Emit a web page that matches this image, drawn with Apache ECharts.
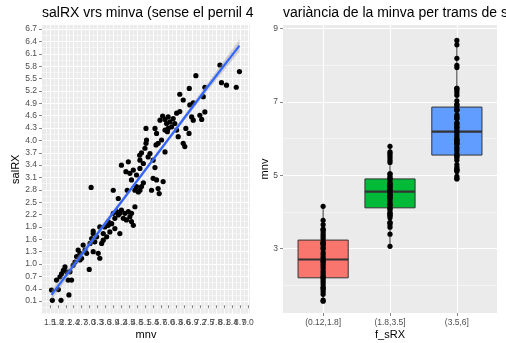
<!DOCTYPE html>
<html>
<head>
<meta charset="utf-8">
<script src="https://cdn.jsdelivr.net/npm/echarts@6/dist/echarts.min.js"></script>
<style>
  html, body { margin: 0; padding: 0; background: #ffffff; }
  #c { width: 506px; height: 343px; }
</style>
</head>
<body>
<div id="c"></div>
<script>
// Observations: weight loss (mnv) and salt uptake (salRX)
const mnv = [
  1.59, 1.92, 2.22, 1.56, 1.82, 1.75, 1.88, 1.94, 2.01, 2.07, 2.19, 2.32, 2.13, 2.26, 2.38, 2.45, 2.51, 2.57, 2.64, 2.70,
  2.76, 2.83, 2.89, 2.99, 3.02, 3.08, 3.14, 3.14, 3.20, 3.27, 3.33, 3.39, 3.46, 3.52, 3.52, 3.58, 3.65, 3.71, 3.77, 3.84,
  3.90, 3.96, 4.03, 4.09, 4.15, 4.21, 4.28, 4.34, 4.40, 4.47, 4.53, 4.59, 4.66,
  2.64, 3.39, 3.96, 4.15, 4.59, 3.71, 3.14, 3.65,
  3.06, 3.90, 4.09, 4.43, 4.72, 4.85, 4.91, 4.21, 4.47, 4.38, 4.53, 4.66, 4.59, 4.78, 4.91, 4.78, 4.97, 5.04, 4.72, 4.90,
  4.97, 4.91, 5.10, 5.14, 5.16, 5.22, 5.29, 5.41, 5.48, 5.41, 5.35, 5.54, 5.60, 5.64, 5.79, 5.86, 5.60, 5.52, 5.14, 5.48,
  5.54, 5.67, 5.77, 5.86, 5.92, 5.98, 6.05, 6.11, 6.17, 6.23, 6.30, 5.98, 5.95, 6.30, 6.36, 6.42, 6.55, 6.61, 6.65, 6.77,
  6.87, 6.93, 7.25, 7.18, 7.37, 5.86, 5.73, 5.04,
  7.94, 8.68, 8.00, 8.19, 8.56, 7.03, 6.78, 7.37, 6.42, 6.55, 7.31, 6.93, 6.80
];
const salRX = [
  0.12, 0.12, 0.25, 0.37, 0.38, 0.61, 0.69, 0.76, 0.85, 0.93, 0.61, 0.61, 0.81, 0.81, 0.97, 1.05, 1.18, 1.34, 1.26, 1.14,
  1.46, 1.34, 1.26, 0.87, 1.50, 1.62, 1.74, 1.30, 1.54, 1.66, 1.26, 1.14, 1.50, 1.58, 1.74, 1.90, 1.66, 1.94, 1.78, 1.98,
  2.23, 2.11, 2.27, 2.19, 1.74, 2.31, 2.11, 2.23, 2.07, 2.27, 2.15, 2.03, 1.94,
  1.10, 1.90, 1.86, 2.23, 2.23, 2.03, 1.80, 1.94,
  2.86, 2.79, 2.59, 2.79, 2.39, 2.75, 2.79, 3.40, 3.48, 3.24, 3.20, 3.28, 3.04, 3.16, 3.32, 2.88, 2.88, 2.97, 2.79, 3.64,
  3.70, 3.52, 3.81, 3.93, 4.01, 3.60, 3.68, 3.52, 3.34, 3.08, 2.79, 3.04, 2.83, 2.71, 3.00, 3.72, 3.93, 3.89, 4.29, 4.29,
  4.17, 4.49, 4.59, 4.51, 4.41, 4.57, 4.45, 4.33, 4.53, 4.41, 4.66, 4.29, 4.21, 4.25, 4.09, 4.70, 3.93, 3.85, 4.29, 4.17,
  4.57, 4.49, 4.51, 4.61, 4.69, 4.25, 4.01, 3.44,
  5.83, 5.67, 5.40, 5.34, 5.29, 5.57, 5.26, 5.29, 5.12, 4.98, 5.06, 4.91, 4.86
];

// Linear fit of salRX on mnv with its confidence band
const fitX     = [1.56, 3.00, 4.50, 6.00, 7.50, 8.68];
const fitY     = [0.25, 1.48, 2.76, 4.04, 5.32, 6.30];
const fitUpper = [0.37, 1.56, 2.81, 4.09, 5.41, 6.44];
const fitLower = [0.13, 1.40, 2.71, 3.99, 5.23, 6.16];

// Tick labels (the mnv breaks alternate between two label rows so none is dropped)
const leftXTicks = [1.5, 1.8, 2.1, 2.4, 2.7, 3.0, 3.3, 3.6, 3.9, 4.2, 4.5, 4.8, 5.1, 5.4, 5.7, 6.0, 6.3, 6.6, 6.9, 7.2, 7.5, 7.8, 8.1, 8.4, 8.7, 9.0];
const leftXLabelsA = leftXTicks.filter((_, i) => i % 2 === 0);
const leftXLabelsB = leftXTicks.filter((_, i) => i % 2 === 1);
const leftYTicks = [0.1, 0.4, 0.7, 1.0, 1.3, 1.6, 1.9, 2.2, 2.5, 2.8, 3.1, 3.4, 3.7, 4.0, 4.3, 4.6, 4.9, 5.2, 5.5, 5.8, 6.1, 6.4, 6.7];
const rightYTicks = [3, 5, 7, 9];
const rightYMinor = [2, 4, 6, 8];

// salRX classes (f_sRX) and boxplot summaries of mnv per class
const groupLabels = ['(0.12,1.8]', '(1.8,3.5]', '(3.5,6]'];
const groupBreaks = [0.12, 1.8, 3.5, 6];
const boxLow    = [1.59, 3.06, 4.90];
const boxQ1     = [2.20, 4.11, 5.55];
const boxMedian = [2.70, 4.55, 6.19];
const boxQ3     = [3.23, 4.90, 6.86];
const boxHigh   = [4.22, 5.86, 8.70];
const boxColors = ['#F8766D', '#00BA38', '#619CFF'];

const FONT = '"Liberation Sans", Arial, Helvetica, sans-serif';
const PANEL = '#EBEBEB';
const TICK_TEXT = '#4D4D4D';
const TICK_LINE = '#333333';

function groupOf(v) {
  for (let g = 0; g < groupLabels.length; g++) {
    if (v <= groupBreaks[g + 1]) return g;
  }
  return groupLabels.length - 1;
}

const scatterData = mnv.map((m, i) => [m, salRX[i]]);
const groupedDots = mnv.map((m, i) => [groupOf(salRX[i]) + 1, m]);
const boxData = groupLabels.map((_, g) => [g + 1, boxLow[g], boxQ1[g], boxMedian[g], boxQ3[g], boxHigh[g]]);

const tickLabel = { fontSize: 8.5, color: TICK_TEXT, fontFamily: FONT, hideOverlap: false, showMinLabel: true, showMaxLabel: true };
const nameStyle = { fontSize: 11, color: '#000000', fontFamily: FONT };
const majorGrid = { show: true, lineStyle: { color: '#FFFFFF', width: 1.1 } };
const minorGrid = { show: true, lineStyle: { color: '#FFFFFF', width: 0.5 } };
const tickStyle = { show: true, length: 3, lineStyle: { color: TICK_LINE, width: 0.6 } };
const titleStyle = { fontSize: 14, fontWeight: 'normal', color: '#000', fontFamily: FONT };

const chart = echarts.init(document.getElementById('c'), null, { renderer: 'canvas' });

chart.setOption({
  animation: false,
  backgroundColor: '#FFFFFF',
  title: [
    {
      text: 'salRX vrs minva (sense el pernil 4)',
      left: 42, top: 6.5, padding: 0,
      textStyle: Object.assign({ width: 214, overflow: 'truncate', ellipsis: '' }, titleStyle)
    },
    {
      text: 'variància de la minva per trams de salRX',
      left: 283, top: 6.5, padding: 0,
      textStyle: titleStyle
    }
  ],
  grid: [
    { left: 42, top: 25, width: 208, height: 288.5, show: true, backgroundColor: PANEL, borderWidth: 0,
      containLabel: false, outerBoundsMode: 'none' },
    { left: 283, top: 25, width: 214, height: 288, show: true, backgroundColor: PANEL, borderWidth: 0,
      containLabel: false, outerBoundsMode: 'none' }
  ],
  xAxis: [
    {
      gridIndex: 0, type: 'value', position: 'bottom', min: 1.2, max: 9.08, interval: 0.3,
      name: 'mnv', nameLocation: 'middle', nameGap: 16, nameMoveOverlap: false, nameTextStyle: nameStyle,
      axisLine: { show: false },
      axisTick: Object.assign({ customValues: leftXTicks }, tickStyle),
      axisLabel: Object.assign({ customValues: leftXLabelsA, margin: 5, formatter: v => v.toFixed(1) }, tickLabel),
      splitLine: majorGrid,
      minorTick: { show: false, splitNumber: 2 },
      minorSplitLine: minorGrid
    },
    {
      gridIndex: 1, type: 'value', position: 'bottom', min: 0.4, max: 3.6,
      name: 'f_sRX', nameLocation: 'middle', nameGap: 16, nameMoveOverlap: false, nameTextStyle: nameStyle,
      axisLine: { show: false },
      axisTick: Object.assign({ customValues: [1, 2, 3] }, tickStyle),
      axisLabel: Object.assign({ customValues: [1, 2, 3], margin: 5, formatter: v => groupLabels[Math.round(v) - 1] }, tickLabel),
      splitLine: majorGrid
    },
    {
      gridIndex: 0, type: 'value', position: 'bottom', offset: 0, min: 1.2, max: 9.08,
      axisLine: { show: false },
      axisTick: { show: false, customValues: leftXLabelsB },
      axisLabel: Object.assign({ customValues: leftXLabelsB, margin: 5, formatter: v => v.toFixed(1) }, tickLabel),
      splitLine: { show: false }
    }
  ],
  yAxis: [
    {
      gridIndex: 0, type: 'value', min: -0.2, max: 6.8, interval: 0.3,
      name: 'salRX', nameLocation: 'middle', nameGap: 21, nameMoveOverlap: false, nameTextStyle: nameStyle,
      axisLine: { show: false },
      axisTick: Object.assign({ customValues: leftYTicks }, tickStyle),
      axisLabel: Object.assign({ customValues: leftYTicks, margin: 5, formatter: v => v.toFixed(1) }, tickLabel),
      splitLine: majorGrid,
      minorTick: { show: false, splitNumber: 2 },
      minorSplitLine: minorGrid
    },
    {
      gridIndex: 1, type: 'value', min: 1.24, max: 9.1, position: 'left',
      name: 'mnv', nameLocation: 'middle', nameGap: 13, nameMoveOverlap: false, nameTextStyle: nameStyle,
      axisLine: { show: false },
      axisTick: Object.assign({ customValues: rightYTicks }, tickStyle),
      axisLabel: Object.assign({ customValues: rightYTicks, margin: 5 }, tickLabel),
      splitLine: majorGrid,
      z: 1
    },
    {
      gridIndex: 1, type: 'value', min: 1.24, max: 9.1, position: 'left',
      axisLine: { show: false },
      axisTick: { show: false, customValues: rightYMinor },
      axisLabel: { show: false },
      splitLine: minorGrid,
      z: 0
    }
  ],
  series: [
    {
      type: 'scatter', xAxisIndex: 0, yAxisIndex: 0,
      data: scatterData, symbolSize: 5.2,
      itemStyle: { color: '#000000', opacity: 1 },
      z: 2
    },
    {
      type: 'custom', xAxisIndex: 0, yAxisIndex: 0,
      data: fitX.map((x, i) => [x, fitLower[i], fitUpper[i]]),
      renderItem: (params, api) => {
        if (params.dataIndex !== 0) return null;
        const pts = [];
        for (let i = 0; i < fitX.length; i++) pts.push(api.coord([fitX[i], fitUpper[i]]));
        for (let i = fitX.length - 1; i >= 0; i--) pts.push(api.coord([fitX[i], fitLower[i]]));
        return { type: 'polygon', shape: { points: pts }, style: { fill: 'rgba(153,153,153,0.4)' } };
      },
      z: 3
    },
    {
      type: 'line', xAxisIndex: 0, yAxisIndex: 0,
      data: fitX.map((x, i) => [x, fitY[i]]),
      showSymbol: false, symbol: 'none',
      lineStyle: { color: '#3366FF', width: 2.2 },
      z: 4
    },
    {
      type: 'custom', xAxisIndex: 1, yAxisIndex: 1,
      data: boxData,
      renderItem: (params, api) => {
        const g = params.dataIndex;
        const x = api.value(0);
        const half = api.size([0.75, 0])[0] / 2;
        const pLow = api.coord([x, api.value(1)]);
        const pQ1 = api.coord([x, api.value(2)]);
        const pMed = api.coord([x, api.value(3)]);
        const pQ3 = api.coord([x, api.value(4)]);
        const pHigh = api.coord([x, api.value(5)]);
        const line = { stroke: TICK_LINE, lineWidth: 1 };
        return {
          type: 'group',
          children: [
            { type: 'line', shape: { x1: pLow[0], y1: pLow[1], x2: pQ1[0], y2: pQ1[1] }, style: line },
            { type: 'line', shape: { x1: pQ3[0], y1: pQ3[1], x2: pHigh[0], y2: pHigh[1] }, style: line },
            { type: 'rect', shape: { x: pQ1[0] - half, y: pQ3[1], width: half * 2, height: pQ1[1] - pQ3[1] },
              style: { fill: boxColors[g], stroke: TICK_LINE, lineWidth: 1 } },
            { type: 'line', shape: { x1: pMed[0] - half, y1: pMed[1], x2: pMed[0] + half, y2: pMed[1] },
              style: { stroke: TICK_LINE, lineWidth: 2.2 } }
          ]
        };
      },
      z: 2
    },
    {
      type: 'scatter', xAxisIndex: 1, yAxisIndex: 1,
      data: groupedDots, symbolSize: 5.2,
      itemStyle: { color: '#000000', opacity: 1 },
      z: 5
    }
  ]
});
</script>
</body>
</html>
